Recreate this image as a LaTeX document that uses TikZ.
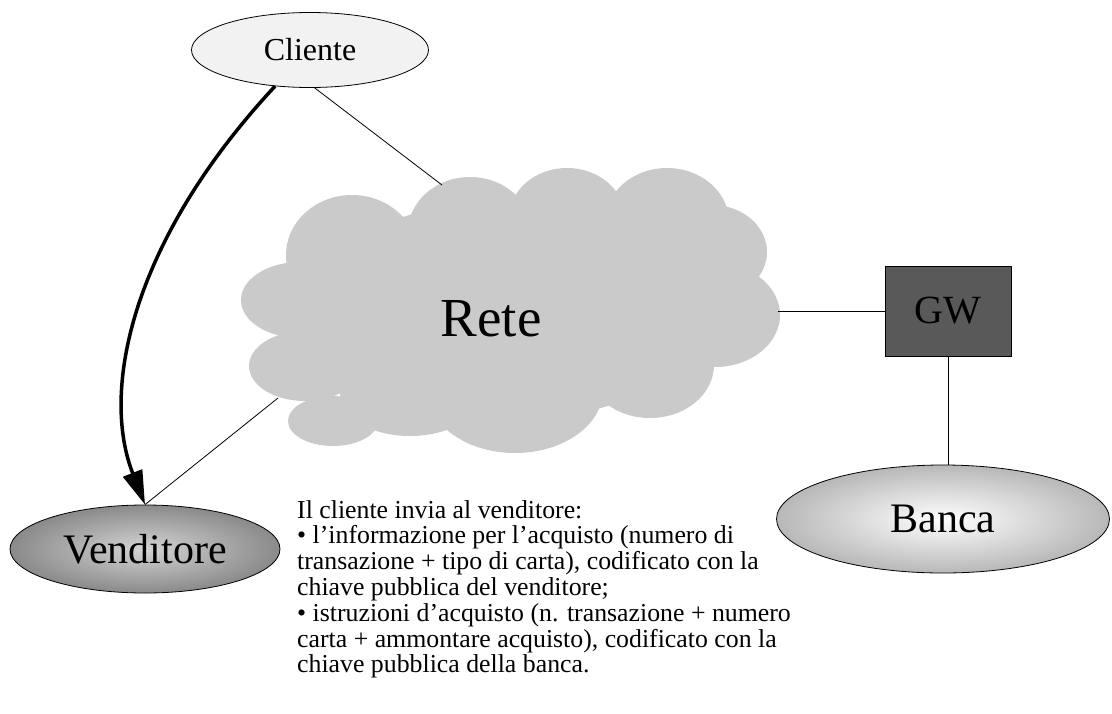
\documentclass[tikz,border=0pt]{standalone}
\usepackage{fontspec}
\setmainfont{Liberation Serif}
\usetikzlibrary{arrows.meta,positioning,shapes}

\definecolor{cloudgray}{RGB}{202,202,202}
\definecolor{gwgray}{RGB}{89,89,89}

\begin{document}
\begin{tikzpicture}[x=1pt,y=-1pt,
  conn/.style={draw,line width=0.8pt},
  peer/.style={draw,ellipse,line width=0.8pt,inner sep=0pt}]
\useasboundingbox (0,0) rectangle (1112,713);
% the cloud
\begin{scope}[fill=cloudgray]
\fill (352,255) ellipse [x radius=66,y radius=60];
\fill (470,232) ellipse [x radius=62,y radius=55];
\fill (567,218) ellipse [x radius=58,y radius=50];
\fill (667,222) ellipse [x radius=62,y radius=54];
\fill (712,252) ellipse [x radius=55,y radius=47];
\fill (715,315) ellipse [x radius=65,y radius=52];
\fill (650,365) ellipse [x radius=64,y radius=53];
\fill (515,390) ellipse [x radius=88,y radius=63];
\fill (410,395) ellipse [x radius=70,y radius=41];
\fill (333,421) ellipse [x radius=45,y radius=25];
\fill (305,366) ellipse [x radius=56,y radius=35];
\fill (300,300) ellipse [x radius=59,y radius=38];
\fill (510,310) ellipse [x radius=200,y radius=110];
\end{scope}
\node[font=\fontsize{55}{60}\selectfont] (rete) at (491,319) {Rete};
\coordinate (rete-n) at (442,185);
\coordinate (rete-sw) at (278,398);
\coordinate (rete-e) at (778,311);

\node[peer,fill=black!5,minimum width=237pt,minimum height=75pt,
  font=\fontsize{32}{36}\selectfont] (cliente) at (310,50) {Cliente};
\node[peer,shading=radial,inner color=black!17,outer color=black!46,
  minimum width=270pt,minimum height=88pt,
  font=\fontsize{42}{46}\selectfont] (venditore) at (145,549) {Venditore};
\node[peer,shading=radial,inner color=white,outer color=black!28,
  minimum width=333pt,minimum height=108pt,
  font=\fontsize{42}{46}\selectfont] (banca) at (943,519) {Banca};
\node[draw,fill=gwgray,line width=0.8pt,minimum width=126pt,minimum height=90pt,
  font=\fontsize{40}{44}\selectfont] (gw) at (948,311) {GW};

\draw[conn] (cliente.-83) -- (rete-n);
\draw[conn] (venditore.north) -- (rete-sw);
\draw[conn] (rete-e) -- (gw.west);
\draw[conn] (gw.south) -- (gw.south |- banca.north);
\draw[line width=3.5pt,-{Triangle[length=34pt,width=20pt]}]
  (cliente.-134) .. controls (132,240) and (100,390) .. (venditore.north);

\node[anchor=north west,inner sep=0pt,align=left,
  font=\fontsize{25.8}{25.8}\selectfont] (nota) at (297,500)
  {Il cliente invia al venditore:\\
   • l’informazione per l’acquisto (numero di\\
   transazione + tipo di carta), codificato con la\\
   chiave pubblica del venditore;\\
   • istruzioni d’acquisto (n. transazione + numero\\
   carta + ammontare acquisto), codificato con la\\
   chiave pubblica della banca.};
\end{tikzpicture}
\end{document}
